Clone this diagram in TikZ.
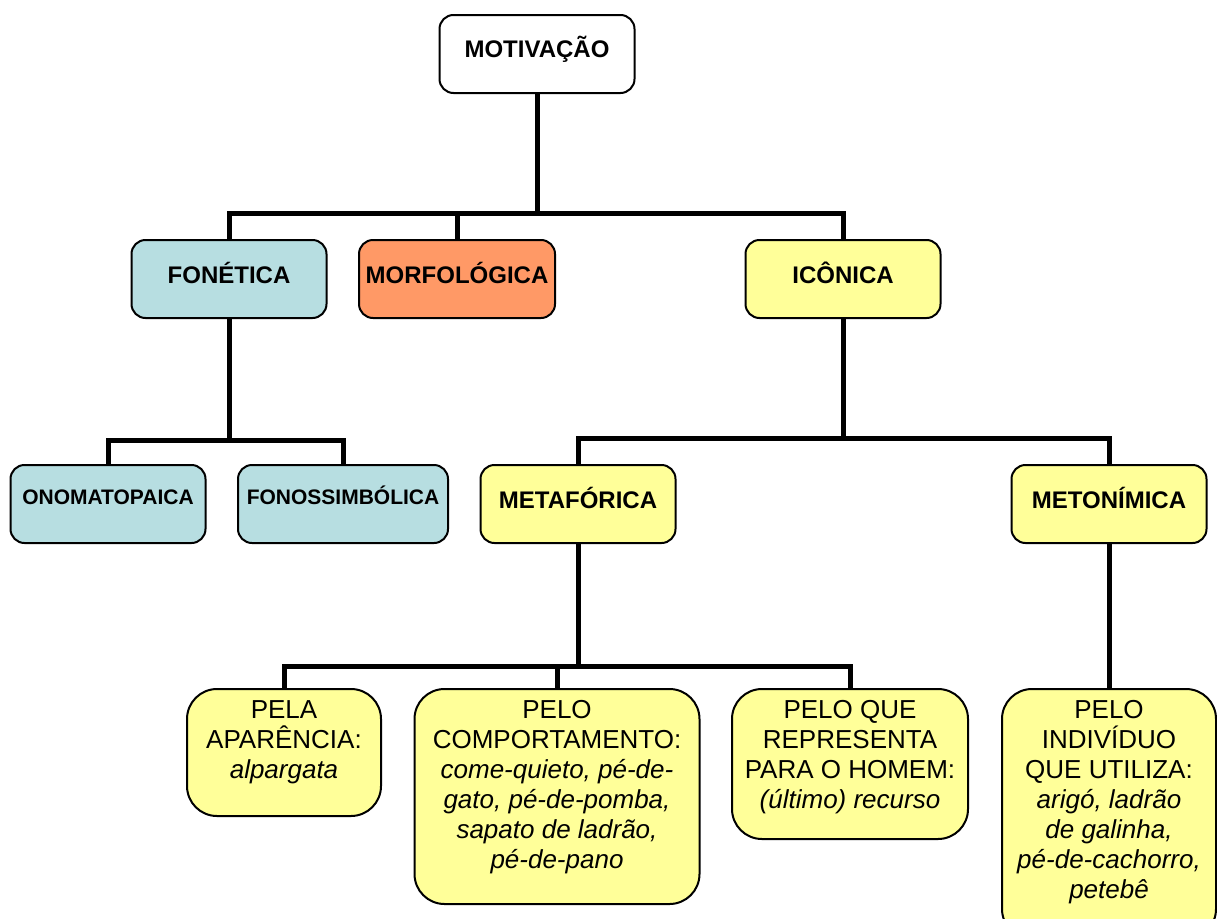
\documentclass[tikz,border=0pt]{standalone}
\usepackage{fontspec}
\setmainfont{Liberation Sans}
\usetikzlibrary{positioning}
\definecolor{azul}{RGB}{183,222,225}
\definecolor{laranja}{RGB}{255,153,102}
\definecolor{amarelo}{RGB}{255,255,153}
\tikzset{
  caixa/.style={draw, line width=2pt, rounded corners=14pt, align=center,
    font=\bfseries\fontsize{24}{28}\selectfont, text height=17pt, text depth=9pt,
    minimum width=195pt, minimum height=78pt, inner sep=2pt},
  miuda/.style={font=\bfseries\fontsize{21}{25}\selectfont, text height=15pt, text depth=15pt},
  folha/.style={draw, line width=2pt, rounded corners=30pt, fill=amarelo, anchor=north},
  texto/.style={align=center, anchor=north, inner sep=0pt, font=\fontsize{26}{30}\selectfont},
  liga/.style={line width=5pt},
}
\begin{document}
\begin{tikzpicture}[x=1pt,y=-1pt]
\useasboundingbox (0,0) rectangle (1217,918);
\clip (0,0) rectangle (1217,918);
% nivel 1 e 2
\node[caixa, fill=white, text depth=10pt] (motiv) at (537,54) {MOTIVAÇÃO};
\node[caixa, fill=azul] (fon) at (229,279) {FONÉTICA};
\node[caixa, fill=laranja, minimum width=196pt] (morf) at (457,279) {MORFOLÓGICA};
\node[caixa, fill=amarelo] (icon) at (843,279) {ICÔNICA};
% nivel 3
\node[caixa, miuda, fill=azul] (ono) at (108,504) {ONOMATOPAICA};
\node[caixa, miuda, fill=azul, minimum width=210pt] (fonos) at (343,504) {FONOSSIMBÓLICA};
\node[caixa, fill=amarelo] (metaf) at (578,504) {METAFÓRICA};
\node[caixa, fill=amarelo] (meton) at (1109,504) {METONÍMICA};
% nivel 4
\node[folha, minimum width=194pt, minimum height=127pt] (aparencia) at (284,688) {};
\node[texto] (aparenciaT) at (284,700) {PELA\\APARÊNCIA:\\\textit{alpargata}};
\node[folha, minimum width=285pt, minimum height=215pt] (comport) at (557,688) {};
\node[texto] (comportT) at (557,700) {PELO\\COMPORTAMENTO:\\\textit{come-quieto, pé-de-}\\\textit{gato, pé-de-pomba,}\\\textit{sapato de ladrão,}\\\textit{pé-de-pano}};
\node[folha, minimum width=236pt, minimum height=150pt] (repres) at (850,688) {};
\node[texto] (represT) at (850,700) {PELO QUE\\REPRESENTA\\PARA O HOMEM:\\\textit{(último) recurso}};
\node[folha, minimum width=214pt, minimum height=250pt] (indiv) at (1109,688) {};
\node[texto] (indivT) at (1109,700) {PELO\\INDIVÍDUO\\QUE UTILIZA:\\\textit{arigó, ladrão}\\\textit{de galinha,}\\\textit{pé-de-cachorro,}\\\textit{petebê}};
% ligacoes
\coordinate (j1) at (537,213);
\coordinate (j2) at (229,440);
\coordinate (j3) at (843,438);
\coordinate (j4) at (578,666);
\draw[liga] (motiv.south) -- (j1);
\draw[liga] (j1) -| (fon.north);
\draw[liga] (j1) -| (morf.north);
\draw[liga] (j1) -| (icon.north);
\draw[liga] (fon.south) -- (j2);
\draw[liga] (j2) -| (ono.north);
\draw[liga] (j2) -| (fonos.north);
\draw[liga] (icon.south) -- (j3);
\draw[liga] (j3) -| (metaf.north);
\draw[liga] (j3) -| (meton.north);
\draw[liga] (metaf.south) -- (j4);
\draw[liga] (j4) -| (aparencia.north);
\draw[liga] (j4) -| (comport.north);
\draw[liga] (j4) -| (repres.north);
\draw[liga] (meton.south) -- (indiv.north);
\end{tikzpicture}
\end{document}
